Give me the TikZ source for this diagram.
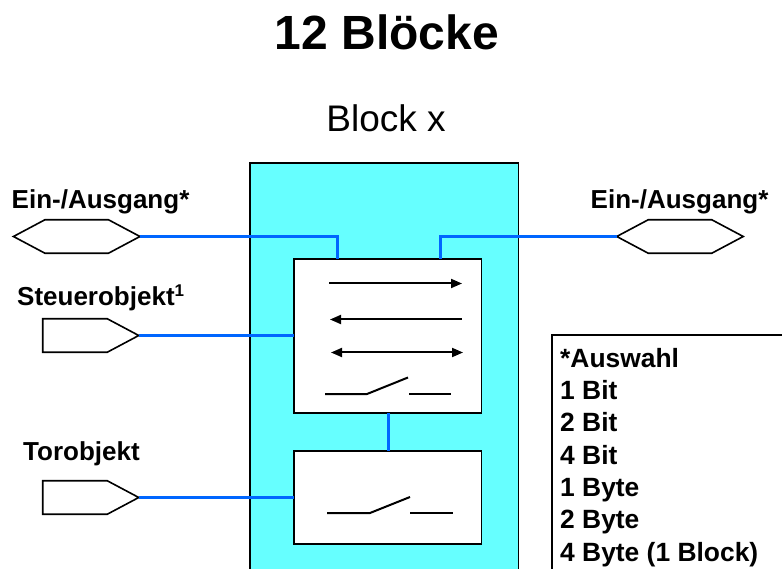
\documentclass[tikz,border=0pt]{standalone}
\usepackage{fontspec}
\setmainfont{Liberation Sans}
\usetikzlibrary{arrows.meta,shapes.symbols}
\definecolor{wireblue}{HTML}{0066FF}
\definecolor{blockcyan}{HTML}{66FFFF}
\tikzset{
  x=1pt,y=-1pt,
  frame/.style={draw=black,line width=1.8pt,inner sep=0pt,outer sep=0pt,anchor=north west},
  innerbox/.style={frame,fill=white,minimum width=187.5pt},
  port/.style={signal,draw=black,fill=white,line width=1.6pt,inner sep=0pt,outer sep=0pt,signal pointer angle=56,minimum height=33.5pt},
  hexport/.style={port,signal to=west and east,minimum width=126.5pt},
  inport/.style={port,signal to=east,signal from=nowhere,minimum width=96pt},
  wire/.style={draw=wireblue,line width=2.6pt},
  flow/.style={draw=black,line width=2pt,{Triangle[length=11pt,width=9pt]}-{Triangle[length=11pt,width=9pt]}},
  flowr/.style={draw=black,line width=2pt,-{Triangle[length=11pt,width=9pt]}},
  flowl/.style={draw=black,line width=2pt,{Triangle[length=11pt,width=9pt]}-},
  contact/.style={draw=black,line width=2pt},
  lab/.style={font=\fontsize{26}{30}\selectfont\bfseries,inner sep=0pt,anchor=base west},
  sel/.style={font=\fontsize{26.4}{30}\selectfont\bfseries,inner sep=0pt,anchor=base west},
}
\begin{document}
\begin{tikzpicture}
\useasboundingbox (0,0) rectangle (782,569);
\clip (0,0) rectangle (782,569);
\node[font=\fontsize{48}{54}\selectfont\bfseries,inner sep=0pt,anchor=base] (title) at (387,50) {12 Blöcke};
\node[font=\fontsize{37}{42}\selectfont,inner sep=0pt,anchor=base] (blockname) at (386,132) {Block x};
\node[frame,fill=blockcyan,minimum width=268.5pt,minimum height=430pt] (block) at (250,163) {};
\node[innerbox,minimum height=154pt] (upper) at (294,259) {};
\node[innerbox,minimum height=93pt] (lower) at (294,451) {};
\node[hexport] (hexL) at (76.7,236.5) {};
\node[hexport] (hexR) at (680,236.5) {};
\node[inport] (steuer) at (75,335.5) {};
\node[inport] (tor) at (75,497.5) {};
\node[lab] (labL) at (11.5,208.5) {Ein-/Ausgang*};
\node[lab] (labR) at (590.5,208.5) {Ein-/Ausgang*};
\node[lab] (labS) at (17,306) {Steuerobjekt\raisebox{9.5pt}{\fontsize{17}{18}\selectfont 1}};
\node[lab] (labT) at (23,460) {Torobjekt};
\coordinate (portL) at (337.5,259);
\coordinate (portR) at (440.5,259);
\draw[wire] (hexL.east) -| (portL);
\draw[wire] (hexR.west) -| (portR);
\draw[wire] (steuer.east) -- (steuer.east -| upper.west);
\draw[wire] (tor.east) -- (tor.east -| lower.west);
\draw[wire] (upper.south -| 388.5,0) -- (lower.north -| 388.5,0);
\coordinate (a1) at (329,283.5); \coordinate (a2) at (462,283.5);
\coordinate (b1) at (330,319.5); \coordinate (b2) at (462,319.5);
\coordinate (c1) at (331,352.5); \coordinate (c2) at (463,352.5);
\draw[flowr] (a1) -- (a2);
\draw[flowl] (b1) -- (b2);
\draw[flow] (c1) -- (c2);
\coordinate (s1) at (325,394); \coordinate (s2) at (367,394); \coordinate (s3) at (408,377.5);
\coordinate (s4) at (409,394); \coordinate (s5) at (451,394);
\draw[contact] (s1) -- (s2) -- (s3);
\draw[contact] (s4) -- (s5);
\coordinate (t1) at (327,513); \coordinate (t2) at (370,513); \coordinate (t3) at (410,497);
\coordinate (t4) at (410,513); \coordinate (t5) at (453,513);
\draw[contact] (t1) -- (t2) -- (t3);
\draw[contact] (t4) -- (t5);
\node[frame,fill=white,minimum width=260pt,minimum height=260pt] (legend) at (552,335) {};
\node[sel] (l0) at (560,367.5) {*Auswahl};
\node[sel] (l1) at (560,399.5) {1 Bit};
\node[sel] (l2) at (560,431.5) {2 Bit};
\node[sel] (l3) at (560,464) {4 Bit};
\node[sel] (l4) at (560,496) {1 Byte};
\node[sel] (l5) at (560,528.5) {2 Byte};
\node[sel] (l6) at (560,561) {4 Byte (1 Block)};
\end{tikzpicture}
\end{document}
